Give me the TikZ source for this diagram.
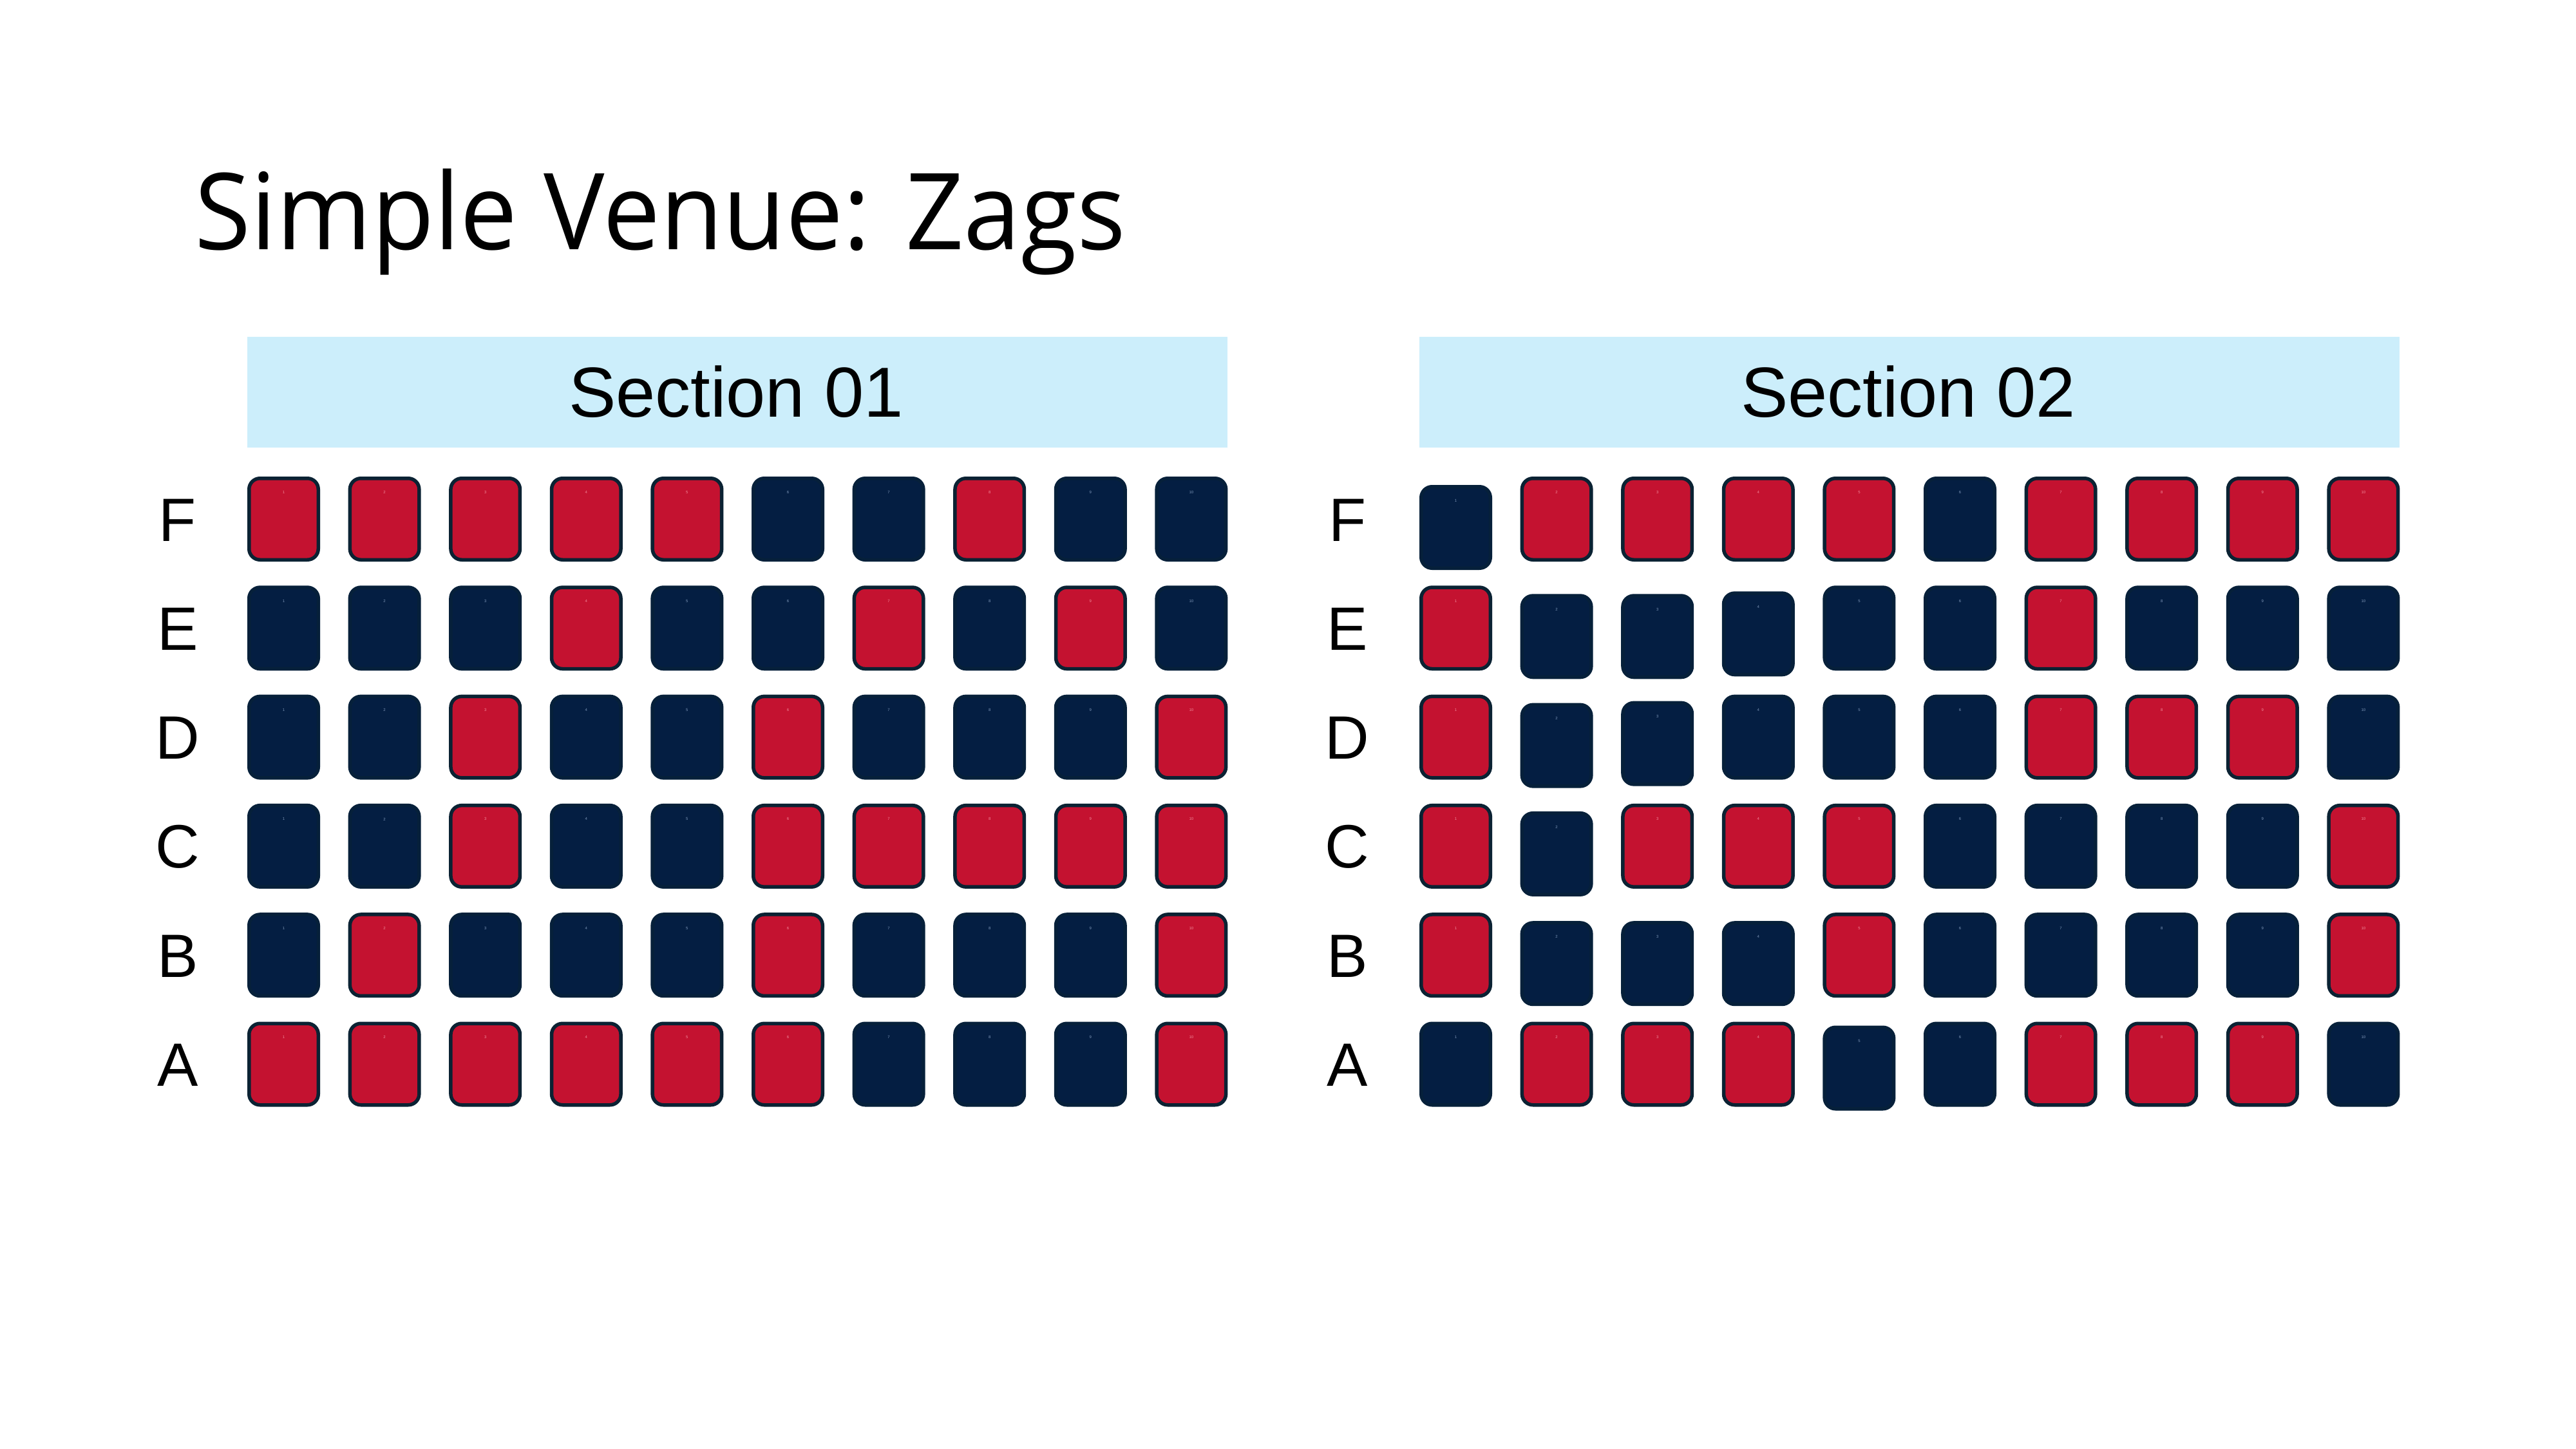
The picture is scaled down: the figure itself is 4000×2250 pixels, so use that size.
\documentclass[tikz,border=0pt]{standalone}
\usepackage{fontspec}
\setmainfont{Liberation Sans}
\newfontfamily\titlefont{Open Sans}
\definecolor{R}{HTML}{C41230}
\definecolor{N}{HTML}{041E42}
\definecolor{ER}{HTML}{0B2233}
\definecolor{EN}{HTML}{06203A}
\definecolor{TR}{HTML}{F08A9A}
\definecolor{TN}{HTML}{7E96B8}
\definecolor{hdr}{HTML}{CCEEFB}
\begin{document}
\begin{tikzpicture}[x=1pt,y=-1pt,
  seat/.style={rectangle, minimum width=107.5pt, minimum height=126.5pt, inner sep=0pt,
    rounded corners=17pt, line width=5.5pt},
  seatnum/.style={inner sep=0pt, font=\fontsize{6}{6}\selectfont},
  header/.style={fill=hdr, draw=none, minimum width=1522pt, minimum height=172pt, inner sep=0pt},
  headtext/.style={anchor=base, inner sep=0pt, font=\fontsize{110}{110}\selectfont},
  rowlab/.style={anchor=base, inner sep=0pt, font=\fontsize{95}{95}\selectfont}]
\useasboundingbox[fill=white] (0,0) rectangle (4000,2250);

\node[anchor=base west, inner sep=0pt, font=\titlefont\fontsize{165}{165}\selectfont] (title) at (302,387) {\scalebox{0.962}[1]{Simple Venue: Zags}};

% section headers
\node[header] (h1) at (1145,609) {};
\node[headtext] (h1t) at (1143,647) {Section 01};
\node[header] (h2) at (2965,609) {};
\node[headtext] (h2t) at (2963,647) {Section 02};

% row labels
\foreach \lab [count=\r from 0] in {F,E,D,C,B,A}{
  \node[rowlab] (l1-\lab) at (276,{840+\r*169.3}) {\lab};
  \node[rowlab] (l2-\lab) at (2092,{840+\r*169.3}) {\lab};
}

% section 1 seats
\foreach \lab/\lst [count=\r from 0] in {
  F/{R/0,R/0,R/0,R/0,R/0,N/0,N/0,R/0,N/0,N/0},
  E/{N/0,N/0,N/0,R/0,N/0,N/0,R/0,N/0,R/0,N/0},
  D/{N/0,N/0,R/0,N/0,N/0,R/0,N/0,N/0,N/0,R/0},
  C/{N/0,N/0,R/0,N/0,N/0,R/0,R/0,R/0,R/0,R/0},
  B/{N/0,R/0,N/0,N/0,N/0,R/0,N/0,N/0,N/0,R/0},
  A/{R/0,R/0,R/0,R/0,R/0,R/0,N/0,N/0,N/0,R/0}}{
  \foreach \c/\dy [count=\i] in \lst {
    \node[seat, fill=\c, draw=E\c] (s1-\lab-\i) at ({440.5+(\i-1)*156.6},{806+\r*169.3+\dy}) {};
    \node[seatnum, text=T\c] (n1-\lab-\i) at ([yshift=-24pt]s1-\lab-\i.north) {\i};
  }
}

% section 2 seats
\foreach \lab/\lst [count=\r from 0] in {
  F/{N/13,R/0,R/0,R/0,R/0,N/0,R/0,R/0,R/0,R/0},
  E/{R/0,N/13,N/13,N/9,N/0,N/0,R/0,N/0,N/0,N/0},
  D/{R/0,N/13,N/10,N/0,N/0,N/0,R/0,R/0,R/0,N/0},
  C/{R/0,N/12,R/0,R/0,R/0,N/0,N/0,N/0,N/0,R/0},
  B/{R/0,N/13,N/13,N/13,R/0,N/0,N/0,N/0,N/0,R/0},
  A/{N/0,R/0,R/0,R/0,N/6,N/0,R/0,R/0,R/0,N/0}}{
  \foreach \c/\dy [count=\i] in \lst {
    \node[seat, fill=\c, draw=E\c] (s2-\lab-\i) at ({2260.5+(\i-1)*156.6},{806+\r*169.3+\dy}) {};
    \node[seatnum, text=T\c] (n2-\lab-\i) at ([yshift=-24pt]s2-\lab-\i.north) {\i};
  }
}
\end{tikzpicture}
\end{document}
